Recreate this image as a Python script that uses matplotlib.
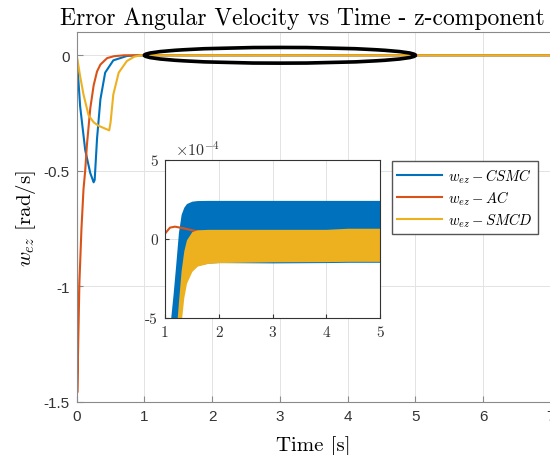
import matplotlib
matplotlib.use("Agg")
import matplotlib.pyplot as plt
from matplotlib.patches import Ellipse
import numpy as np

plt.rcParams['mathtext.fontset'] = 'cm'
plt.rcParams['axes.unicode_minus'] = False

# MATLAB default colours
c_blue = '#0072BD'
c_orange = '#D95319'
c_yellow = '#EDB120'

# main plot
t_csmc = [0, 0.05, 0.125, 0.2, 0.25, 0.265, 0.3, 0.35, 0.42, 0.54, 0.74, 0.9, 1.0, 7.0]
w_csmc = [0, -0.22, -0.41, -0.51, -0.55, -0.54, -0.36, -0.19, -0.075, -0.022, -0.003, 0, 0, 0]

t_ac = [0, 0.008, 0.025, 0.04, 0.07, 0.1, 0.125, 0.15, 0.2, 0.25, 0.3, 0.35, 0.45, 0.55, 0.7, 7.0]
w_ac = [0, -1.46, -1.2, -0.98, -0.75, -0.58, -0.5, -0.39, -0.23, -0.13, -0.07, -0.04, -0.012, -0.004, 0, 0]

t_smcd = [0, 0.05, 0.1, 0.175, 0.25, 0.32, 0.48, 0.5, 0.54, 0.62, 0.74, 0.85, 0.94, 1.0, 7.0]
w_smcd = [0, -0.09, -0.17, -0.26, -0.29, -0.305, -0.325, -0.29, -0.17, -0.075, -0.025, -0.006, 0, 0, 0]

# zoomed view (values x 1e-4): envelopes of the chattering signals
t_zoom = [1.0, 1.1, 1.15, 1.2, 1.25, 1.3, 1.35, 1.4, 1.5, 1.6, 1.8, 2.0, 3.0, 4.0, 4.4, 5.0]
csmc_hi = [-9, -5.2, -3.5, -1.6, 0.4, 1.55, 2.0, 2.23, 2.38, 2.42, 2.43, 2.43, 2.43, 2.43, 2.43, 2.43]
csmc_lo = [-12, -9, -8, -7, -5.5, -4.5, -3.3, -2.6, -2.0, -1.68, -1.53, -1.5, -1.52, -1.5, -1.48, -1.48]
smcd_hi = [-12, -9, -7.5, -6.2, -4.0, -2.0, -0.75, -0.06, 0.46, 0.57, 0.6, 0.6, 0.6, 0.6, 0.67, 0.67]
smcd_lo = [-15, -13, -11, -9, -7.5, -5.3, -3.7, -2.8, -2.05, -1.72, -1.55, -1.5, -1.45, -1.44, -1.42, -1.42]

t_ac_zoom = [1.0, 1.093, 1.186, 1.34, 1.53, 1.65, 2.0, 3.0, 4.0, 5.0]
w_ac_zoom = [0.33, 0.71, 0.77, 0.67, 0.52, 0.46, 0.4, 0.35, 0.35, 0.35]

labels = [r'$w_{ez} - CSMC$', r'$w_{ez} - AC$', r'$w_{ez} - SMCD$']

fig = plt.figure(figsize=(5.5, 4.56), dpi=100)
ax = fig.add_axes([0.1395, 0.1169, 0.862, 0.8103])

l1, = ax.plot(t_csmc, w_csmc, color=c_blue, lw=1.5)
l2, = ax.plot(t_ac, w_ac, color=c_orange, lw=1.5)
l3, = ax.plot(t_smcd, w_smcd, color=c_yellow, lw=1.5)

ax.set_xlim(0, 7)
ax.set_ylim(-1.5, 0.1)
ax.set_xticks(range(8))
ax.set_yticks([-1.5, -1, -0.5, 0])
ax.set_yticklabels(['-1.5', '-1', '-0.5', '0'])
ax.grid(True, color='#e3e3e3', lw=0.7)
ax.set_axisbelow(True)
for s in ax.spines.values():
    s.set_color('#8a8a8a')
ax.tick_params(direction='in', length=4, color='#8a8a8a', labelcolor='#333333',
               labelsize=11, pad=5)
for lab in ax.get_xticklabels() + ax.get_yticklabels():
    lab.set_fontfamily('Liberation Sans')

# highlight of the steady region
ax.add_patch(Ellipse((3, 0), width=4, height=0.068, fill=False, lw=2.6, color='black', zorder=5))

fig.text(302/550, 1 - 18.5/456, 'Error Angular Velocity vs Time - z-component',
         ha='center', va='center', fontsize=17, family='cmr10')
fig.text(313/550, 1 - 446/456, 'Time [s]', ha='center', va='center', fontsize=15, family='cmr10')
fig.text(26/550, 1 - 219/456, r'$w_{ez}$ [rad/s]', ha='center', va='center', rotation=90,
         fontsize=15, family='cmr10')

ax.legend([l1, l2, l3], labels, loc='upper left', bbox_to_anchor=(392/550, 1 - 162/456),
          bbox_transform=fig.transFigure, fancybox=False, edgecolor='#555555', framealpha=1,
          fontsize=10.5, handlelength=3.1, borderpad=0.35, labelspacing=0.25,
          handletextpad=0.4, borderaxespad=0)

# inset
ins = fig.add_axes([165/550, 1 - 319/456, 215/550, 158.3/456])
sc = 1e-4
ins.fill_between(t_zoom, np.array(csmc_lo) * sc, np.array(csmc_hi) * sc, color=c_blue, lw=0, zorder=2)
ins.plot(t_ac_zoom, np.array(w_ac_zoom) * sc, color=c_orange, lw=1.5, zorder=3)
ins.fill_between(t_zoom, np.array(smcd_lo) * sc, np.array(smcd_hi) * sc, color=c_yellow, lw=0, zorder=4)
ins.set_xlim(1, 5)
ins.set_ylim(-5e-4, 5e-4)
ins.set_xticks([1, 2, 3, 4, 5])
ins.set_xticklabels(['1', '2', '3', '4', '5'])
ins.set_yticks([-5e-4, 0, 5e-4])
ins.set_yticklabels(['-5', '0', '5'])
ins.grid(True, color='#e3e3e3', lw=0.7)
ins.set_axisbelow(True)
for s in ins.spines.values():
    s.set_color('#333333')
    s.set_zorder(5)
ins.tick_params(direction='in', length=3, color='#333333', labelcolor='#333333',
                labelsize=11, pad=5)
for lab in ins.get_xticklabels() + ins.get_yticklabels():
    lab.set_fontfamily('cmr10')
ins.text(0.045, 1.01, r'$\times 10^{-4}$', transform=ins.transAxes, fontsize=11.5,
         color='#333333', va='bottom')

fig.savefig('out.png', dpi=100)
